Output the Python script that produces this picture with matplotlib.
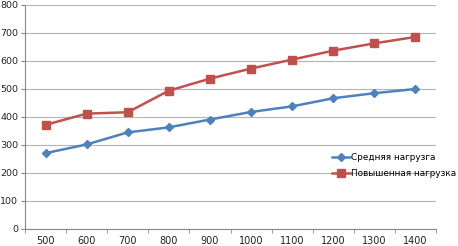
import matplotlib
matplotlib.use("Agg")
import matplotlib.pyplot as plt
import numpy as np

loads = [500, 600, 700, 800, 900, 1000, 1100, 1200, 1300, 1400]
medium = [271, 302, 345, 363, 391, 418, 438, 467, 485, 500]
high = [372, 412, 417, 494, 537, 573, 605, 637, 663, 686]

blue = '#4F81BD'
red = '#C0504D'

fig = plt.figure(figsize=(4.58, 2.46), dpi=100)
ax = fig.add_axes([25/458, 1-229/246, 411/458, 224/246])

x = np.arange(len(loads))
ax.plot(x, medium, '-', color=blue, lw=1.8, marker='D', ms=4.5,
        label='Средняя нагрузга')
ax.plot(x, high, '-', color=red, lw=1.8, marker='s', ms=6,
        label='Повышенная нагрузка')

ax.set_xlim(-0.5, len(loads) - 0.5)
ax.set_ylim(0, 800)
ax.set_yticks(range(0, 801, 100))
ax.yaxis.grid(True, color='#b4b4b4', lw=0.8)
ax.set_axisbelow(True)

ax.set_xticks(x)
ax.set_xticklabels([str(v) for v in loads])
ax.set_xticks(np.arange(-0.5, len(loads)), minor=True)
ax.tick_params(axis='x', which='major', length=0, pad=5, labelsize=7, colors='#222222')
ax.tick_params(axis='x', which='minor', length=3, color='#888888')
ax.tick_params(axis='y', length=3, labelsize=6.8, colors='#222222', pad=2)
ax.tick_params(axis='y', color='#888888')

for s in ['top', 'right']:
    ax.spines[s].set_visible(False)
for s in ['left', 'bottom']:
    ax.spines[s].set_color('#888888')
    ax.spines[s].set_linewidth(0.8)

fig.legend(loc='upper left', bbox_to_anchor=(332/458, 1-153/246), frameon=False,
           fontsize=6.4, handlelength=2.0, handletextpad=0.1, labelspacing=0.8,
           borderaxespad=0, borderpad=0)

fig.savefig('out.png', dpi=100)
